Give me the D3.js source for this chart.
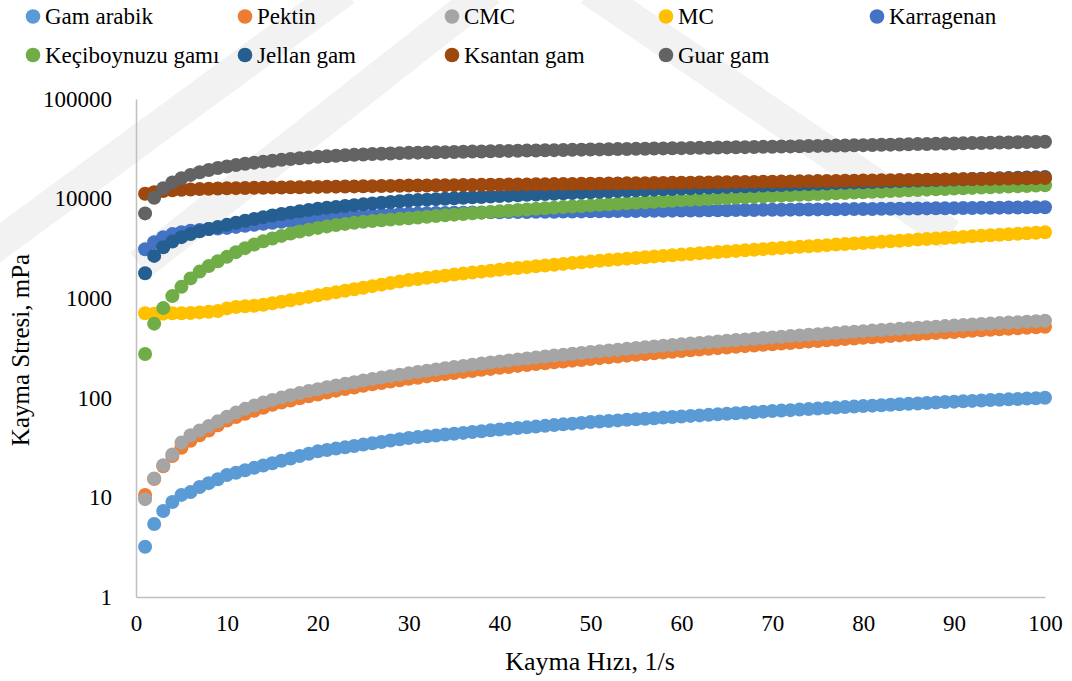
<!DOCTYPE html>
<html>
<head>
<meta charset="utf-8">
<script src="https://cdn.jsdelivr.net/npm/d3@7"></script>
<style>
  body { margin: 0; background: #fff; }
  svg text { font-family: "Liberation Serif", "Times New Roman", serif; fill: #000; }
</style>
</head>
<body>
<svg id="chart" width="1072" height="681"></svg>
<script>
const FONT = '"Liberation Serif", "Times New Roman", serif';

// shear rate 1..100 1/s
const shearRate = d3.range(1, 101);

const gamArabik = [3.2,5.4,7.3,9.0,10.6,11.3,12.7,13.9,15.2,16.8,
  17.7,18.7,19.8,20.9,22.0,23.3,24.6,26.0,27.4,29.0,
  29.9,30.9,31.8,32.8,33.9,34.9,36.0,37.2,38.3,39.5,
  40.3,41.1,41.9,42.7,43.5,44.4,45.3,46.2,47.1,48.0,
  48.8,49.7,50.5,51.4,52.3,53.2,54.1,55.0,56.0,57.0,
  57.8,58.5,59.3,60.1,60.8,61.6,62.4,63.3,64.1,65.0,
  65.8,66.6,67.4,68.2,69.1,69.9,70.8,71.7,72.6,73.5,
  74.4,75.2,76.1,77.0,77.9,78.8,79.7,80.7,81.6,82.5,
  83.4,84.2,85.1,86.0,86.9,87.8,88.7,89.6,90.6,91.5,
  92.3,93.1,94.0,94.8,95.7,96.5,97.4,98.2,99.1,100];

const pektin = [10.6,15.3,20.5,26,31.5,37,42,47,53,59,
  64,69,74,79.5,85,89.5,94,99,103.5,108,
  113,118,122.5,127,132,136.5,141,145.5,150,155,
  159,164,168,173,177,182,186,191,195,200,
  204,209,213,218,222,227,231,236,240,245,
  250,255,260,265,270,275,280,285,290,295,
  300,305,310,315,320,325,330,335,340,345,
  350,355.5,361,366.5,372,377.5,383,388.5,394,400,
  405.5,411,417,423,429,435,441,447,452.5,458,
  464,470,476,481.5,487,493,499,504.5,510,516];

const cmc = [9.6,15.5,21,27,35.5,42,47,52,58,64.5,
  71,77.5,83.5,89.5,95,100.5,106,111.5,117,122,
  127.5,133,138,143.5,149,154,159.5,165,170.5,176,
  181.5,187,192.5,198,203.5,209,215,220.5,226,232,
  237.5,243,248.5,254,260,265.5,271,276.5,282,288,
  293.5,299,304.5,310,316,321.5,327,332.5,338,344,
  350,356,362,368,374,380,386,392,398,404,
  410,416.5,423,429,435,441.5,448,454,460.5,467,
  473,479.5,486,492.5,499,505,511.5,518,524.5,531,
  537,543.5,550,556,562.5,569,575,581.5,588,594];

const mc = [705,700,700,705,705,710,720,730,745,790,
  815,830,840,860,890,920,955,990,1030,1070,
  1108,1148,1189,1231,1275,1321,1368,1417,1467,1520,
  1561,1602,1643,1684,1725,1766,1807,1848,1889,1930,
  1970,2010,2050,2090,2130,2170,2210,2250,2290,2330,
  2371,2412,2453,2494,2535,2576,2617,2658,2699,2740,
  2781,2822,2863,2904,2945,2986,3027,3068,3109,3150,
  3193,3236,3279,3322,3365,3408,3451,3494,3537,3580,
  3629,3678,3727,3776,3825,3874,3923,3972,4021,4070,
  4123,4176,4229,4282,4335,4388,4441,4494,4547,4600];

const karragenan = [3100,3650,4100,4400,4600,4750,4850,4950,5000,5080,
  5200,5340,5470,5600,5720,5840,5960,6070,6180,6290,
  6380,6470,6550,6630,6710,6790,6860,6930,7000,7070,
  7100,7130,7160,7185,7210,7230,7250,7270,7285,7300,
  7315,7330,7345,7360,7375,7390,7405,7420,7435,7450,
  7463,7476,7489,7502,7515,7528,7541,7554,7567,7580,
  7594,7608,7622,7636,7650,7664,7678,7692,7706,7720,
  7734,7748,7762,7776,7790,7804,7818,7832,7846,7860,
  7876,7892,7908,7924,7940,7956,7972,7988,8004,8020,
  8038,8056,8074,8092,8110,8128,8146,8164,8182,8200];

const keciboynuzu = [275,555,795,1050,1300,1580,1850,2100,2350,2600,
  2900,3180,3460,3730,3980,4220,4450,4670,4880,5080,
  5260,5420,5570,5710,5840,5960,6070,6170,6260,6350,
  6460,6570,6680,6790,6900,7010,7120,7230,7340,7450,
  7560,7670,7780,7890,8000,8110,8220,8330,8440,8550,
  8655,8760,8865,8970,9075,9180,9285,9390,9495,9600,
  9700,9800,9900,10000,10100,10200,10300,10400,10500,10600,
  10700,10800,10900,11000,11100,11200,11300,11400,11500,11600,
  11700,11800,11900,12000,12100,12200,12300,12400,12500,12600,
  12700,12800,12900,13000,13100,13200,13300,13400,13500,13600];

const jellan = [1780,2660,3250,3700,4100,4400,4700,4950,5200,5450,
  5720,5990,6250,6510,6760,7000,7230,7460,7690,7900,
  8080,8250,8420,8590,8760,8920,9080,9240,9400,9560,
  9660,9760,9870,9970,10080,10180,10290,10390,10500,10600,
  10700,10800,10900,11000,11100,11200,11300,11400,11500,11600,
  11700,11800,11900,12000,12100,12200,12300,12400,12500,12600,
  12700,12800,12900,13000,13100,13200,13300,13400,13500,13600,
  13700,13800,13900,14000,14100,14200,14300,14400,14500,14600,
  14695,14790,14885,14980,15075,15170,15265,15360,15455,15550,
  15645,15740,15835,15930,16025,16120,16215,16310,16405,16500];

const ksantan = [11200,11600,11900,12100,12250,12350,12450,12550,12620,12700,
  12740,12780,12820,12860,12900,12940,12980,13020,13060,13100,
  13140,13180,13220,13260,13300,13340,13380,13420,13460,13500,
  13530,13560,13590,13620,13650,13680,13710,13740,13770,13800,
  13830,13860,13890,13920,13950,13980,14010,14040,14070,14100,
  14133,14166,14199,14232,14265,14298,14331,14364,14397,14430,
  14465,14500,14535,14570,14605,14640,14675,14710,14745,14780,
  14820,14860,14900,14940,14980,15020,15060,15100,15140,15180,
  15225,15270,15315,15360,15405,15450,15495,15540,15585,15630,
  15677,15724,15771,15818,15865,15912,15959,16006,16053,16100];

const guar = [7100,10200,12700,14500,16000,17300,18400,19400,20300,21000,
  21700,22350,22950,23500,24000,24500,25000,25450,25900,26300,
  26650,26950,27250,27500,27750,28000,28200,28400,28600,28800,
  28920,29040,29160,29280,29400,29520,29640,29760,29880,30000,
  30110,30220,30330,30440,30550,30660,30770,30880,30990,31100,
  31200,31300,31400,31500,31600,31700,31800,31900,32000,32100,
  32210,32320,32430,32540,32650,32760,32870,32980,33090,33200,
  33320,33440,33560,33680,33800,33920,34040,34160,34280,34400,
  34540,34680,34820,34960,35100,35240,35380,35520,35660,35800,
  35940,36080,36220,36360,36500,36640,36780,36920,37060,37200];

const seriesNames = ['Gam arabik', 'Pektin', 'CMC', 'MC', 'Karragenan',
  'Keçiboynuzu gamı', 'Jellan gam', 'Ksantan gam', 'Guar gam'];
const seriesValues = [gamArabik, pektin, cmc, mc, karragenan, keciboynuzu, jellan, ksantan, guar];
const seriesColors = ['#5B9BD5', '#ED7D31', '#A5A5A5', '#FFC000', '#4472C4',
  '#70AD47', '#255E91', '#9E480E', '#636363'];

const xTicks = d3.range(0, 101, 10);
const yTicks = [1, 10, 100, 1000, 10000, 100000];

const svg = d3.select('#chart');

// faint watermark bands behind the chart
const watermark = svg.append('g')
  .attr('fill', 'none')
  .attr('stroke', '#f2f2f2')
  .attr('stroke-width', 32);
watermark.append('path').attr('d', 'M-10,250 L345,-10');
watermark.append('path').attr('d', 'M140,265 L490,-10');
watermark.append('path').attr('d', 'M590,-10 L950,235');

const x = d3.scaleLinear().domain([0, 100]).range([136, 1045]);
const y = d3.scaleLog().domain([1, 100000]).range([597, 99]);

// axes
const gx = svg.append('g')
  .attr('transform', 'translate(0,597)')
  .attr('font-family', FONT)
  .call(d3.axisBottom(x).tickValues(xTicks).tickSize(0).tickSizeOuter(0).tickPadding(18)
    .tickFormat(d3.format('d')));
gx.select('.domain').attr('stroke', '#BFBFBF').attr('stroke-width', 1.5);
gx.selectAll('text').attr('font-size', '23px').attr('font-family', FONT);

const gy = svg.append('g')
  .attr('transform', 'translate(136,0)')
  .attr('font-family', FONT)
  .call(d3.axisLeft(y).tickValues(yTicks).tickSize(0).tickSizeOuter(0).tickPadding(24)
    .tickFormat(d3.format('d')));
gy.select('.domain').attr('stroke', '#BFBFBF').attr('stroke-width', 1.5);
gy.selectAll('text').attr('font-size', '23px').attr('font-family', FONT);

// points
seriesValues.forEach((vals, i) => {
  svg.append('g')
    .attr('fill', seriesColors[i])
    .selectAll('circle')
    .data(vals)
    .join('circle')
    .attr('cx', (d, j) => x(shearRate[j]))
    .attr('cy', (d) => y(d))
    .attr('r', 7);
});

// axis titles
svg.append('text')
  .attr('x', 590).attr('y', 670)
  .attr('text-anchor', 'middle')
  .attr('font-family', FONT)
  .attr('font-size', '26px')
  .text('Kayma Hızı, 1/s');

svg.append('text')
  .attr('transform', 'translate(29,350) rotate(-90)')
  .attr('text-anchor', 'middle')
  .attr('font-family', FONT)
  .attr('font-size', '25px')
  .text('Kayma Stresi, mPa');

// legend, two rows
const legendX = [33, 245, 452, 666, 877];
const legend = svg.append('g')
  .selectAll('g')
  .data(seriesNames)
  .join('g')
  .attr('transform', (d, i) => `translate(${legendX[i % 5]},${i < 5 ? 16.5 : 55})`);
legend.append('circle')
  .attr('r', 7.3)
  .attr('fill', (d, i) => seriesColors[i]);
legend.append('text')
  .attr('x', 12).attr('y', 7.5)
  .attr('font-family', FONT)
  .attr('font-size', '23px')
  .text((d) => d);
</script>
</body>
</html>
